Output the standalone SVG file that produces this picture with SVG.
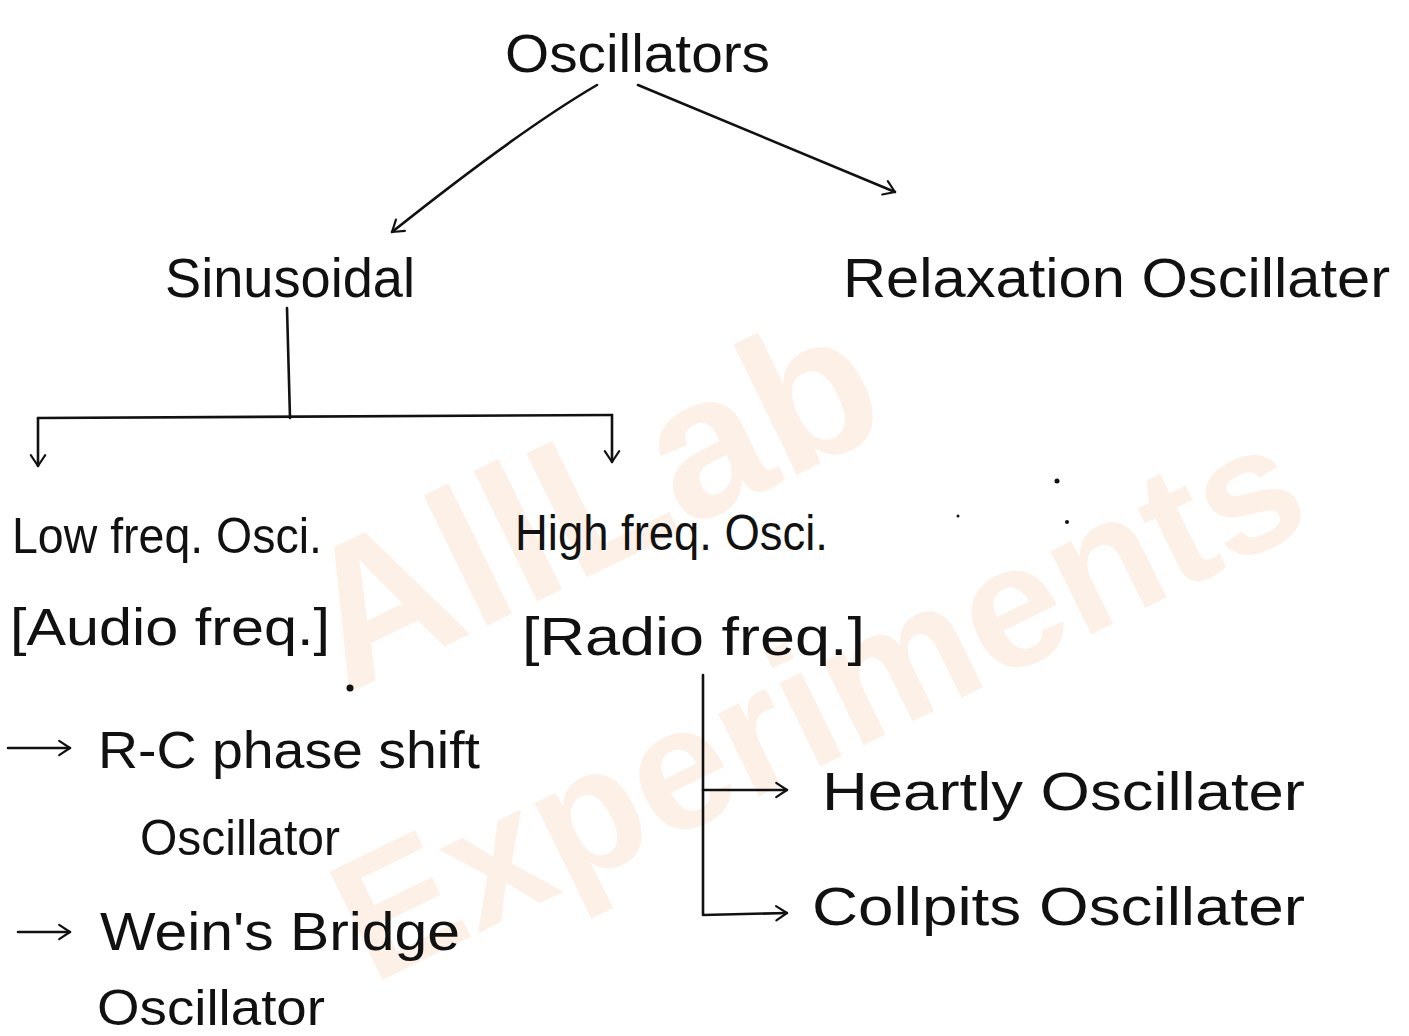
<svg xmlns="http://www.w3.org/2000/svg" width="1409" height="1036" viewBox="0 0 1409 1036">
<style>
.t{font-family:"Liberation Sans","DejaVu Sans",sans-serif;fill:#111;}
.wm{font-family:"Liberation Sans",Arial,sans-serif;font-weight:bold;fill:#fbe3d1;opacity:0.5;}
.c{fill:none;stroke:#111;stroke-width:2.6;stroke-linecap:round;stroke-linejoin:round;}
</style>
<defs>
<marker id="ah" viewBox="0 0 20 20" refX="18" refY="10" markerWidth="18" markerHeight="18" markerUnits="userSpaceOnUse" orient="auto">
<path d="M6,2 L18,10 L6,18" fill="none" stroke="#111" stroke-width="2.4" stroke-linecap="round" stroke-linejoin="round"/>
</marker>
</defs>
<rect width="1409" height="1036" fill="#ffffff"/>
<g id="watermark">
<text class="wm" x="0" y="0" font-size="200" transform="translate(345,695) rotate(-26)">AllLab</text>
<text class="wm" x="0" y="0" font-size="175" transform="translate(372,985) rotate(-26)">Experiments</text>
</g>
<g id="connectors">
<path class="c" d="M597,85 Q520,130 392,232" marker-end="url(#ah)"/>
<path class="c" d="M638,85 L895,192" marker-end="url(#ah)"/>
<path class="c" d="M287,308 L290,418"/>
<path class="c" d="M38,418 L612,415"/>
<path class="c" d="M38,418 L38,466" marker-end="url(#ah)"/>
<path class="c" d="M612,415 L612,462" marker-end="url(#ah)"/>
<path class="c" d="M703,675 L703,915 L787,913" marker-end="url(#ah)"/>
<path class="c" d="M703,790 L787,790" marker-end="url(#ah)"/>
<path class="c" d="M8,748 L70,748" marker-end="url(#ah)"/>
<path class="c" d="M18,932 L70,932" marker-end="url(#ah)"/>
</g>
<g id="oscillators"><text class="t" x="505" y="72" font-size="54" textLength="265" lengthAdjust="spacingAndGlyphs">Oscillators</text></g>
<g id="sinusoidal"><text class="t" x="165" y="297" font-size="56" textLength="250" lengthAdjust="spacingAndGlyphs">Sinusoidal</text></g>
<g id="relaxation"><text class="t" x="843" y="297" font-size="56" textLength="547" lengthAdjust="spacingAndGlyphs">Relaxation Oscillater</text></g>
<g id="low-freq">
<text class="t" x="12" y="553" font-size="50" textLength="310" lengthAdjust="spacingAndGlyphs">Low freq. Osci.</text>
<text class="t" x="10" y="645" font-size="52" textLength="320" lengthAdjust="spacingAndGlyphs">[Audio freq.]</text>
</g>
<g id="high-freq">
<text class="t" x="515" y="550" font-size="50" textLength="313" lengthAdjust="spacingAndGlyphs">High freq. Osci.</text>
<text class="t" x="522" y="655" font-size="54" textLength="343" lengthAdjust="spacingAndGlyphs">[Radio freq.]</text>
</g>
<g id="rc-phase-shift">
<text class="t" x="98" y="768" font-size="52" textLength="382" lengthAdjust="spacingAndGlyphs">R-C phase shift</text>
<text class="t" x="140" y="855" font-size="50" textLength="200" lengthAdjust="spacingAndGlyphs">Oscillator</text>
</g>
<g id="weins-bridge">
<text class="t" x="100" y="950" font-size="54" textLength="360" lengthAdjust="spacingAndGlyphs">Wein's Bridge</text>
<text class="t" x="97" y="1025" font-size="50" textLength="228" lengthAdjust="spacingAndGlyphs">Oscillator</text>
</g>
<g id="heartly"><text class="t" x="822" y="810" font-size="54" textLength="483" lengthAdjust="spacingAndGlyphs">Heartly Oscillater</text></g>
<g id="collpits"><text class="t" x="812" y="925" font-size="54" textLength="493" lengthAdjust="spacingAndGlyphs">Collpits Oscillater</text></g>
<g id="dots" fill="#111">
<circle cx="350" cy="688" r="3.5"/>
<circle cx="1057" cy="481" r="2.5"/>
<circle cx="1067" cy="522" r="2"/>
<circle cx="958" cy="516" r="1.5"/>
</g>
</svg>
